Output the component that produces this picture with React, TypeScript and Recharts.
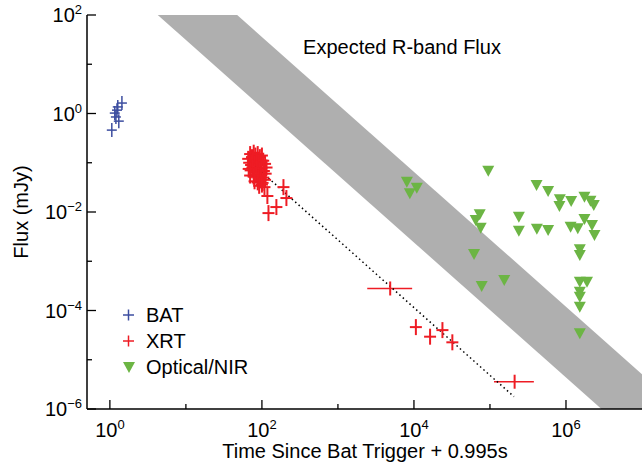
import { Area, ComposedChart, ErrorBar, Line, Scatter, XAxis, YAxis } from "recharts";

// axis ticks (every decade; only even powers get a label)
const xTicks = [1, 10, 100, 1e3, 1e4, 1e5, 1e6];
const yTicks = [1e-6, 1e-5, 1e-4, 1e-3, 1e-2, 1e-1, 1, 10, 100];

// BAT
const batTime = [1.44, 1.27, 1.24, 1.16, 1.2, 1.31, 1.06];
const batFlux = [1.63, 1.36, 1.17, 1.02, 0.85, 0.7, 0.46];

// XRT early cluster + isolated points
const xrtTime = [
  66, 70, 74, 78, 82, 88, 94, 100, 68, 72, 76, 80, 85, 90, 96, 104, 110, 67, 71, 75, 80, 86, 92, 98, 106, 115,
  70, 78, 84, 90, 97, 104, 112, 80, 88, 95, 102, 110, 92, 100, 108,
  192, 210, 118, 155, 122, 10600, 16300, 23700, 32000,
];
const xrtFlux = [
  0.12, 0.15, 0.13, 0.16, 0.14, 0.15, 0.13, 0.14, 0.1, 0.09, 0.11, 0.095, 0.105, 0.09, 0.1, 0.11, 0.095, 0.075,
  0.07, 0.08, 0.065, 0.075, 0.07, 0.078, 0.068, 0.08, 0.055, 0.052, 0.058, 0.05, 0.055, 0.05, 0.06, 0.042, 0.04,
  0.044, 0.039, 0.045, 0.034, 0.036, 0.032,
  0.032, 0.0192, 0.0211, 0.0126, 0.0095, 4.6e-5, 2.94e-5, 4.0e-5, 2.26e-5,
];

// XRT late points with wide time bins
const xrtLateTime = [4870, 2.11e5];
const xrtLateFlux = [2.8e-4, 3.58e-6];
const xrtLateStart = [2430, 1.13e5];
const xrtLateEnd = [9470, 3.78e5];

// Optical/NIR upper limits
const optTime = [
  8070, 10900, 8830, 95000, 4.1e5, 5.82e5, 8.3e5, 8.2e5, 1.17e6, 1.75e6, 2.1e6, 2.32e6, 73300, 64900, 75500,
  2.4e5, 2.4e5, 4.14e5, 5.82e5, 1.15e6, 1.43e6, 1.75e6, 2.2e6, 2.37e6, 1.52e6, 1.52e6, 61700, 1.54e5, 77800,
  1.52e6, 1.89e6, 1.52e6, 1.52e6, 1.52e6, 1.52e6,
];
const optFlux = [
  0.0412, 0.0311, 0.024, 0.069, 0.0353, 0.0267, 0.0181, 0.0132, 0.0167, 0.0205, 0.0169, 0.0139, 0.00898, 0.00689,
  0.0048, 0.00803, 0.00417, 0.00458, 0.00431, 0.00503, 0.00467, 0.00721, 0.00544, 0.00341, 0.00175, 0.00134,
  0.0014, 4.16e-4, 3.14e-4, 3.85e-4, 3.85e-4, 2.41e-4, 1.91e-4, 1.19e-4, 3.44e-5,
];

// expected R-band flux band (edges at the two ends) and the dotted decay line
const bandTime = [1, 1e7];
const bandLow = [730, 1.86e-7];
const bandHigh = [19700, 5.07e-6];
const fitTime = [73, 2.07e5];
const fitFlux = [0.0989, 1.78e-6];

const BLUE = "#3d4ea0";
const RED = "#ee1c24";
const GREEN = "#6cb544";
const FONT = "'Liberation Sans', Arial, sans-serif";

const batData = batTime.map((t, i) => ({ t, f: batFlux[i] }));
const xrtData = xrtTime.map((t, i) => ({ t, f: xrtFlux[i] }));
const xrtLateData = xrtLateTime.map((t, i) => ({
  t,
  f: xrtLateFlux[i],
  tErr: [t - xrtLateStart[i], xrtLateEnd[i] - t],
}));
const optData = optTime.map((t, i) => ({ t, f: optFlux[i] }));
const lineRows = [
  ...bandTime.map((t, i) => ({ t, band: [bandLow[i], bandHigh[i]] as [number, number] })),
  ...fitTime.map((t, i) => ({ t, fit: fitFlux[i] })),
].sort((a, b) => a.t - b.t);

const crossShape = (color: string, hx: number, hy: number, w: number) => (props: any) => {
  const { cx, cy } = props;
  return (
    <g stroke={color} strokeWidth={w}>
      <line x1={cx - hx} x2={cx + hx} y1={cy} y2={cy} />
      <line x1={cx} x2={cx} y1={cy - hy} y2={cy + hy} />
    </g>
  );
};

const triangleShape = (props: any) => {
  const { cx, cy } = props;
  return <polygon points={`${cx - 6},${cy - 5} ${cx + 6},${cy - 5} ${cx},${cy + 6}`} fill={GREEN} />;
};

function Power({ p }: { p: number }) {
  return (
    <>
      10
      <tspan dy={-8} fontSize={13}>
        {p < 0 ? `\u2212${-p}` : `${p}`}
      </tspan>
    </>
  );
}

// ticks point into the plot; labels only on the left/bottom axes
const makeTick = (side: "left" | "right" | "top" | "bottom") => (props: any) => {
  const { x, y, payload } = props;
  const p = Math.round(Math.log10(payload.value));
  const major = p % 2 === 0;
  const len = major ? 9 : 5;
  const dx = side === "left" ? len : side === "right" ? -len : 0;
  const dy = side === "bottom" ? -len : side === "top" ? len : 0;
  return (
    <g>
      <line x1={x} y1={y} x2={x + dx} y2={y + dy} stroke="#000" strokeWidth={1.3} />
      {major && side === "left" && (
        <text x={x - 5} y={y + 7} textAnchor="end" fontSize={20} fontFamily={FONT} fill="#000">
          <Power p={p} />
        </text>
      )}
      {major && side === "bottom" && (
        <text x={x} y={y + 28} textAnchor="middle" fontSize={20} fontFamily={FONT} fill="#000">
          <Power p={p} />
        </text>
      )}
    </g>
  );
};

const legendItems = [
  { label: "BAT", kind: "cross", color: BLUE },
  { label: "XRT", kind: "cross", color: RED },
  { label: "Optical/NIR", kind: "tri", color: GREEN },
];

export default function App() {
  const axisLine = { stroke: "#000", strokeWidth: 1.5 };
  return (
    <div style={{ position: "absolute", left: 0, top: 0, background: "#fff" }}>
      <ComposedChart width={643} height={462} data={lineRows} margin={{ top: 15, right: 1, bottom: 0, left: 0 }}>
        <XAxis
          dataKey="t"
          type="number"
          scale="log"
          domain={[0.5, 1e7]}
          allowDataOverflow
          ticks={xTicks}
          height={53}
          tickSize={0}
          tickMargin={0}
          tickLine={false}
          axisLine={axisLine}
          tick={makeTick("bottom")}
          interval={0}
        />
        <XAxis
          xAxisId="top"
          orientation="top"
          dataKey="t"
          type="number"
          scale="log"
          domain={[0.5, 1e7]}
          allowDataOverflow
          ticks={xTicks}
          height={0}
          tickSize={0}
          tickMargin={0}
          tickLine={false}
          axisLine={axisLine}
          tick={makeTick("top")}
          interval={0}
        />
        <YAxis
          type="number"
          scale="log"
          domain={[1e-6, 100]}
          allowDataOverflow
          ticks={yTicks}
          width={87}
          tickSize={0}
          tickMargin={0}
          tickLine={false}
          axisLine={axisLine}
          tick={makeTick("left")}
          interval={0}
        />
        <YAxis
          yAxisId="right"
          orientation="right"
          type="number"
          scale="log"
          domain={[1e-6, 100]}
          allowDataOverflow
          ticks={yTicks}
          width={0}
          tickSize={0}
          tickMargin={0}
          tickLine={false}
          axisLine={axisLine}
          tick={makeTick("right")}
          interval={0}
        />
        <Area
          dataKey="band"
          type="linear"
          fill="#afafaf"
          fillOpacity={1}
          stroke="none"
          connectNulls
          isAnimationActive={false}
        />
        <Scatter data={batData} dataKey="f" shape={crossShape(BLUE, 5, 7, 1.5)} isAnimationActive={false} />
        <Scatter data={xrtData} dataKey="f" shape={crossShape(RED, 6, 8, 2)} isAnimationActive={false} />
        <Scatter data={xrtLateData} dataKey="f" shape={crossShape(RED, 0, 7, 2)} isAnimationActive={false}>
          <ErrorBar dataKey="tErr" direction="x" width={0} stroke={RED} strokeWidth={1.5} />
        </Scatter>
        <Line
          dataKey="fit"
          type="linear"
          stroke="#000"
          strokeWidth={1.5}
          strokeDasharray="1.5 3"
          dot={false}
          connectNulls
          isAnimationActive={false}
        />
        <Scatter data={optData} dataKey="f" shape={triangleShape} isAnimationActive={false} />

        <text x={402} y={54} textAnchor="middle" fontSize={20} fontFamily={FONT} fill="#000">
          Expected R-band Flux
        </text>
        <text x={365} y={458} textAnchor="middle" fontSize={20} fontFamily={FONT} fill="#000">
          Time Since Bat Trigger + 0.995s
        </text>
        <text
          x={28}
          y={212}
          textAnchor="middle"
          fontSize={20}
          fontFamily={FONT}
          fill="#000"
          transform="rotate(-90 28 212)"
        >
          Flux (mJy)
        </text>
        {legendItems.map((item, i) => {
          const cy = 315 + i * 26;
          return (
            <g key={item.label}>
              {item.kind === "cross" ? (
                <g stroke={item.color} strokeWidth={1.5}>
                  <line x1={123} x2={134} y1={cy} y2={cy} />
                  <line x1={128.5} x2={128.5} y1={cy - 5.5} y2={cy + 5.5} />
                </g>
              ) : (
                <polygon points={`${123},${cy - 5} ${135},${cy - 5} ${129},${cy + 6}`} fill={item.color} />
              )}
              <text x={146} y={cy + 7} fontSize={20} fontFamily={FONT} fill="#000">
                {item.label}
              </text>
            </g>
          );
        })}
      </ComposedChart>
    </div>
  );
}
